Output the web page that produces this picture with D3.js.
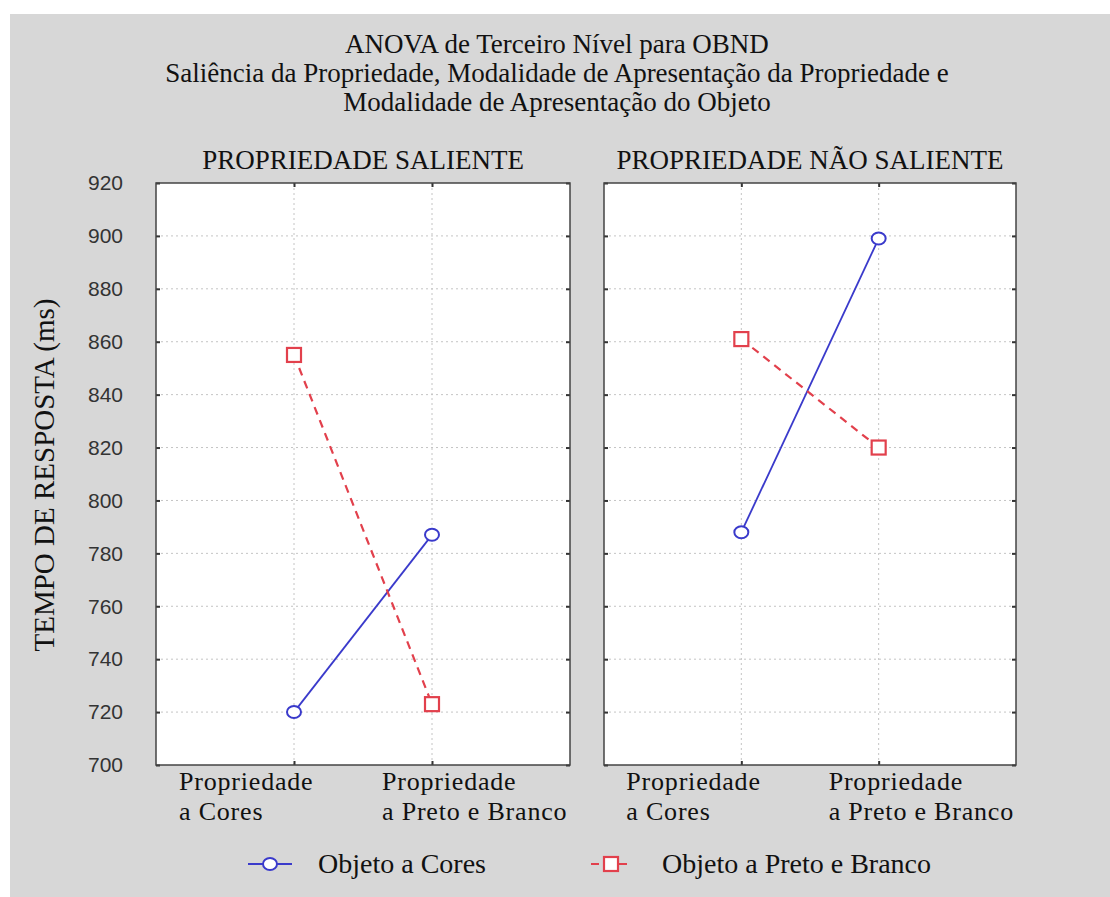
<!DOCTYPE html>
<html>
<head>
<meta charset="utf-8">
<script src="https://cdn.jsdelivr.net/npm/d3@7"></script>
<style>
	body { margin: 0; background: #ffffff; }
	svg { display: block; }
</style>
</head>
<body>
<div id="anova_display"></div>
<script>
//------------------------------------------------------------------------------
// Data
//------------------------------------------------------------------------------

var titleLines = [
	"ANOVA de Terceiro Nível para OBND",
	"Saliência da Propriedade, Modalidade de Apresentação da Propriedade e",
	"Modalidade de Apresentação do Objeto"
];
var panelTitles = ["PROPRIEDADE SALIENTE", "PROPRIEDADE NÃO SALIENTE"];
var categories = ["Propriedade a Cores", "Propriedade a Preto e Branco"];
var categoryLines = [["Propriedade", "a Cores"], ["Propriedade", "a Preto e Branco"]];
var yTicks = [700, 720, 740, 760, 780, 800, 820, 840, 860, 880, 900, 920];
var seriesNames = ["Objeto a Cores", "Objeto a Preto e Branco"];

// one value per category, one array per panel
var objetoCores = [[720, 787], [788, 899]];
var objetoPretoBranco = [[855, 723], [861, 820]];

var yLabel = "TEMPO DE RESPOSTA (ms)";


//------------------------------------------------------------------------------
// Plotting functions
//------------------------------------------------------------------------------

var W = 1110, H = 897;
var panelBoxes = [{x0: 156, x1: 570}, {x0: 604, x1: 1016}];
var top_y = 183, bottom_y = 765;
var serif = "'Liberation Serif', 'DejaVu Serif', serif";
var blue = "#3a3acb", red = "#e2404c";

function draw_panel(svg, p, y) {
	var box = panelBoxes[p];
	var x = d3.scalePoint().domain(categories).range([box.x0, box.x1]).padding(1);
	var g = svg.append("g");

	g.append("rect")
		.attr("x", box.x0).attr("y", top_y)
		.attr("width", box.x1 - box.x0).attr("height", bottom_y - top_y)
		.attr("fill", "#ffffff");

	// dotted grid
	g.selectAll(".hgrid").data(yTicks.slice(1, -1)).enter().append("line")
		.attr("x1", box.x0).attr("x2", box.x1)
		.attr("y1", function(d){ return y(d); }).attr("y2", function(d){ return y(d); })
		.attr("stroke", "#c4c4c4").attr("stroke-width", 1).attr("stroke-dasharray", "2,3");
	g.selectAll(".vgrid").data(categories).enter().append("line")
		.attr("x1", function(d){ return x(d); }).attr("x2", function(d){ return x(d); })
		.attr("y1", top_y).attr("y2", bottom_y)
		.attr("stroke", "#c4c4c4").attr("stroke-width", 1).attr("stroke-dasharray", "2,3");

	// inner ticks on all four sides
	var yl = d3.axisRight(y).tickValues(yTicks).tickSize(4).tickFormat("");
	var yr = d3.axisLeft(y).tickValues(yTicks).tickSize(4).tickFormat("");
	var xt = d3.axisBottom(x).tickSize(4).tickFormat("");
	var xb = d3.axisTop(x).tickSize(4).tickFormat("");
	[[yl, "translate(" + box.x0 + ",0)"], [yr, "translate(" + box.x1 + ",0)"],
	 [xt, "translate(0," + top_y + ")"], [xb, "translate(0," + bottom_y + ")"]].forEach(function(a){
		var ax = g.append("g").attr("transform", a[1]).call(a[0]);
		ax.select(".domain").remove();
		ax.selectAll("line").attr("stroke", "#333").attr("stroke-width", 2);
	});

	g.append("rect")
		.attr("x", box.x0).attr("y", top_y)
		.attr("width", box.x1 - box.x0).attr("height", bottom_y - top_y)
		.attr("fill", "none").attr("stroke", "#444").attr("stroke-width", 1.5);

	// panel title
	svg.append("text")
		.attr("x", (box.x0 + box.x1) / 2).attr("y", 169)
		.attr("text-anchor", "middle")
		.attr("font-family", serif).attr("font-size", 27)
		.attr("fill", "#111")
		.text(panelTitles[p]);

	// category labels (left aligned blocks, as in the original), one text per line
	var offsets = [-115, -50];
	categories.forEach(function(c, i){
		categoryLines[i].forEach(function(s, k){
			svg.append("text")
				.attr("x", x(c) + offsets[i]).attr("y", 790 + k * 30)
				.attr("font-family", serif).attr("font-size", 26)
				.attr("letter-spacing", 0.8).attr("fill", "#111")
				.text(s);
		});
	});

	var line = d3.line()
		.x(function(d, i){ return x(categories[i]); })
		.y(function(d){ return y(d); });

	g.append("path").datum(objetoCores[p])
		.attr("d", line).attr("fill", "none")
		.attr("stroke", blue).attr("stroke-width", 1.8);
	g.append("path").datum(objetoPretoBranco[p])
		.attr("d", line).attr("fill", "none")
		.attr("stroke", red).attr("stroke-width", 2.2).attr("stroke-dasharray", "8,6");

	g.selectAll(".circ").data(objetoCores[p]).enter().append("ellipse")
		.attr("cx", function(d, i){ return x(categories[i]); })
		.attr("cy", function(d){ return y(d); })
		.attr("rx", 7).attr("ry", 6)
		.attr("fill", "#fff").attr("stroke", blue).attr("stroke-width", 2);
	g.selectAll(".sq").data(objetoPretoBranco[p]).enter().append("rect")
		.attr("x", function(d, i){ return x(categories[i]) - 7; })
		.attr("y", function(d){ return y(d) - 7; })
		.attr("width", 14).attr("height", 14)
		.attr("fill", "#fff").attr("stroke", red).attr("stroke-width", 2.2);
}


function plot_anova(div) {
	var svg = d3.select(div).append("svg")
		.attr("width", W).attr("height", H);

	svg.append("rect")
		.attr("x", 10).attr("y", 14).attr("width", W - 10).attr("height", H - 14)
		.attr("fill", "#d7d7d7");

	svg.selectAll(".title").data(titleLines).enter().append("text")
		.attr("x", 557).attr("y", function(d, i){ return 53 + i * 29; })
		.attr("text-anchor", "middle")
		.attr("font-family", serif).attr("font-size", 27)
		.attr("fill", "#111")
		.text(function(d){ return d; });

	var y = d3.scaleLinear().domain([700, 920]).range([bottom_y, top_y]);

	// y tick labels
	var ya = svg.append("g").attr("transform", "translate(" + panelBoxes[0].x0 + ",0)")
		.call(d3.axisLeft(y).tickValues(yTicks).tickSize(0).tickPadding(33));
	ya.select(".domain").remove();
	ya.selectAll("text")
		.attr("font-family", "'Liberation Sans', Arial, sans-serif")
		.attr("font-size", 21).attr("fill", "#333");

	svg.append("text")
		.attr("transform", "translate(54,475) rotate(-90)")
		.attr("text-anchor", "middle")
		.attr("font-family", serif).attr("font-size", 29).attr("fill", "#111")
		.text(yLabel);

	draw_panel(svg, 0, y);
	draw_panel(svg, 1, y);

	// legend
	var ly = 864;
	var lg = svg.append("g");
	lg.append("line").attr("x1", 248).attr("x2", 292).attr("y1", ly).attr("y2", ly)
		.attr("stroke", blue).attr("stroke-width", 1.8);
	lg.append("ellipse").attr("cx", 270).attr("cy", ly).attr("rx", 7).attr("ry", 6)
		.attr("fill", "#fff").attr("stroke", blue).attr("stroke-width", 2);
	lg.append("text").attr("x", 318).attr("y", ly + 9)
		.attr("font-family", serif).attr("font-size", 28).attr("fill", "#111")
		.text(seriesNames[0]);

	lg.append("line").attr("x1", 590).attr("x2", 633).attr("y1", ly).attr("y2", ly)
		.attr("stroke", red).attr("stroke-width", 2.2).attr("stroke-dasharray", "8,6")
		.attr("stroke-dashoffset", -1);
	lg.append("rect").attr("x", 604).attr("y", ly - 7).attr("width", 14).attr("height", 14)
		.attr("fill", "#fff").attr("stroke", red).attr("stroke-width", 2.2);
	lg.append("text").attr("x", 662).attr("y", ly + 9)
		.attr("font-family", serif).attr("font-size", 28).attr("fill", "#111")
		.text(seriesNames[1]);
}


//------------------------------------------------------------------------------
// Main
//------------------------------------------------------------------------------

function main() {
	plot_anova(document.getElementById("anova_display"));
}

window.addEventListener('load', main, false);
</script>
</body>
</html>
